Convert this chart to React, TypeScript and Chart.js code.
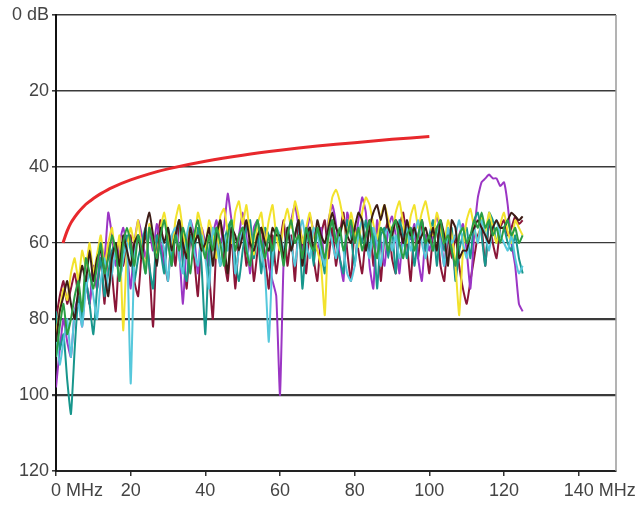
import React, { useEffect, useRef } from "react";
import { Chart, registerables } from "chart.js";

Chart.register(...registerables);

const FREQ = [
  0, 1, 2, 3, 4, 5, 6, 7, 8, 9, 10, 11, 12, 13, 14, 15, 16, 17, 18, 19,
  20, 21, 22, 23, 24, 25, 26, 27, 28, 29, 30, 31, 32, 33, 34, 35, 36, 37, 38, 39,
  40, 41, 42, 43, 44, 45, 46, 47, 48, 49, 50, 51, 52, 53, 54, 55, 56, 57, 58, 59,
  60, 61, 62, 63, 64, 65, 66, 67, 68, 69, 70, 71, 72, 73, 74, 75, 76, 77, 78, 79,
  80, 81, 82, 83, 84, 85, 86, 87, 88, 89, 90, 91, 92, 93, 94, 95, 96, 97, 98, 99,
  100, 101, 102, 103, 104, 105, 106, 107, 108, 109, 110, 111, 112, 113, 114, 115, 116, 117, 118, 119,
  120, 121, 122, 123, 124, 125,
];

const RED_X = [1.9, 2, 3, 4, 5, 6, 8, 10, 12, 15, 20, 25, 30, 40, 50, 60, 70, 80, 90, 100];
const RED_Y = [60, 59.6, 56.8, 54.7, 53.2, 51.9, 49.8, 48.3, 47.0, 45.4, 43.4, 41.8, 40.5, 38.5, 36.9, 35.6, 34.5, 33.6, 32.7, 32.0];

const YELLOW = [
  84, 78, 72, 75, 68, 64, 70, 62, 66, 60,
  68, 63, 58, 66, 60, 56, 64, 58, 83, 62,
  56, 60, 54, 62, 66, 55, 58, 64, 56, 52,
  58, 62, 54, 50, 57, 63, 55, 60, 52, 56,
  62, 54, 58, 64, 53, 51, 57, 60, 52, 49,
  55, 50, 58, 63, 55, 52, 60, 54, 50, 58,
  62, 55, 51, 56, 49, 53, 60, 56, 52, 58,
  62, 66, 79, 55, 48, 46, 49, 54, 58, 52,
  57, 61, 52, 48, 50, 55, 59, 53, 50, 54,
  58, 52, 49, 55, 60, 53, 50, 56, 52, 49,
  54, 58, 52, 56, 60, 54, 58, 66, 79, 62,
  54, 51, 56, 60, 53, 57, 52, 56, 60, 55,
  52, 57, 60, 54, 56, 58,
];
const PURPLE = [
  98, 88, 80, 86, 90, 78, 74, 82, 70, 76,
  66, 72, 60, 64, 52, 58, 66, 60, 56, 62,
  72, 60, 54, 58, 64, 57, 62, 55, 60, 66,
  58, 66, 56, 62, 76, 60, 54, 58, 68, 56,
  60, 66, 58, 54, 60, 56, 47, 54, 62, 58,
  52, 58, 68, 56, 54, 62, 57, 66, 70, 74,
  100, 64, 58, 54, 50, 56, 62, 58, 53, 57,
  62, 56, 66, 54, 50, 55, 64, 70, 52, 56,
  60, 54, 48, 52, 66, 72, 54, 60, 66, 56,
  53, 58, 68, 56, 54, 59, 55, 64, 70, 58,
  62, 57, 53, 58, 66, 56, 60, 68, 58, 55,
  62, 72, 58, 48, 44, 43, 42, 43, 43, 45,
  44, 50, 60, 66, 76, 78,
];
const MAROON = [
  80, 74, 70, 76, 72, 68, 74, 80, 70, 76,
  66, 72, 64, 76, 60, 68, 78, 62, 66, 60,
  58, 70, 74, 62, 58, 66, 82, 60, 54, 64,
  70, 58, 66, 54, 62, 72, 58, 64, 74, 58,
  62, 68, 80, 60, 54, 64, 70, 58, 72, 60,
  56, 66, 58, 70, 62, 56, 64, 72, 58, 68,
  60, 54, 66, 58, 70, 54, 60, 68, 56, 64,
  70, 58, 54, 64, 56, 66, 58, 52, 62, 70,
  56, 62, 68, 58, 54, 66, 56, 70, 58, 54,
  64, 68, 56, 52, 60, 70, 56, 64, 54, 60,
  68, 58, 56, 66, 70, 58, 64, 58, 66, 72,
  76, 70, 64, 58, 56, 66, 54, 60, 64, 56,
  54, 58, 56, 53, 55, 54,
];
const TEAL = [
  78, 88, 84, 96, 105, 88, 74, 80, 70, 76,
  84, 72, 64, 74, 68, 62, 60, 70, 64, 58,
  62, 70, 64, 60, 56, 66, 72, 58, 62, 68,
  56, 64, 58, 54, 66, 70, 58, 62, 56, 66,
  84, 62, 58, 56, 66, 60, 56, 54, 64, 70,
  62, 56, 54, 64, 58, 68, 56, 58, 66, 56,
  60, 64, 56, 62, 58, 54, 72, 60, 56, 66,
  56, 62, 68, 58, 54, 60, 64, 68, 54, 58,
  66, 56, 60, 54, 62, 56, 72, 58, 56, 64,
  56, 68, 54, 58, 64, 56, 66, 58, 54, 62,
  58, 54, 66, 56, 62, 58, 56, 70, 62, 58,
  56, 64, 54, 52, 58, 66, 52, 54, 60, 56,
  56, 60, 62, 58, 64, 68,
];
const CYAN = [
  84, 92, 86, 80, 90, 78, 76, 82, 72, 68,
  74, 80, 70, 64, 72, 68, 62, 70, 64, 60,
  97, 64, 58, 62, 68, 56, 60, 66, 58, 62,
  70, 58, 56, 64, 68, 58, 54, 62, 66, 58,
  64, 72, 56, 60, 66, 58, 62, 54, 68, 62,
  56, 60, 66, 58, 54, 62, 68, 86, 64, 56,
  58, 62, 56, 60, 66, 58, 54, 60, 64, 56,
  58, 62, 66, 56, 60, 64, 58, 62, 68, 70,
  66, 58, 54, 60, 64, 56, 60, 66, 58, 56,
  62, 58, 64, 60, 56, 62, 58, 54, 60, 64,
  58, 62, 56, 60, 66, 56, 60, 58, 54, 60,
  64, 58, 56, 60, 54, 58, 62, 56, 54, 58,
  60, 62, 58, 64, 68, 66,
];
const GREEN = [
  90, 82, 76, 84, 80, 74, 70, 78, 64, 68,
  72, 66, 60, 68, 64, 58, 62, 70, 60, 56,
  60, 66, 58, 62, 68, 56, 60, 64, 58, 54,
  60, 66, 58, 62, 56, 60, 68, 58, 54, 60,
  64, 58, 62, 56, 60, 66, 58, 54, 62, 58,
  56, 62, 66, 58, 54, 60, 64, 58, 62, 56,
  60, 66, 58, 54, 60, 58, 64, 56, 60, 62,
  56, 60, 64, 58, 54, 60, 56, 62, 58, 54,
  60, 56, 62, 58, 54, 60, 64, 56, 58, 62,
  56, 54, 60, 64, 58, 56, 62, 58, 54, 60,
  58, 62, 56, 54, 60, 58, 62, 66, 58, 56,
  60, 58, 54, 56, 52, 56, 54, 58, 56, 60,
  56, 54, 58, 56, 60, 58,
];
const DARK = [
  86, 78, 74, 70, 76, 80, 72, 66, 70, 62,
  70, 64, 62, 68, 74, 64, 60, 66, 58, 62,
  66, 60, 58, 64, 56, 52, 58, 66, 56, 60,
  56, 62, 58, 54, 60, 64, 56, 60, 58, 62,
  60, 56, 66, 58, 54, 60, 68, 56, 58, 62,
  58, 54, 60, 62, 58, 56, 60, 62, 56, 58,
  58, 64, 56, 62, 58, 54, 66, 58, 56, 62,
  54, 58, 60, 56, 52, 56, 58, 54, 58, 60,
  56, 52, 54, 62, 56, 52, 50, 54, 50, 56,
  58, 54, 56, 60, 54, 58, 56, 60, 58, 56,
  60, 56, 62, 54, 58, 66, 54, 56, 64, 62,
  62, 58, 56, 54, 56, 58, 60, 56, 54, 56,
  56, 54, 52, 53, 54, 53,
];

const Y_TICKS = [0, 20, 40, 60, 80, 100, 120];
const X_TICKS = [0, 20, 40, 60, 80, 100, 120, 140];

const FONT = "'Liberation Sans', Arial, sans-serif";
const FONT_SIZE = 18;

function pts(xs: number[], ys: number[]) {
  return ys.map((y, i) => ({ x: xs[i], y }));
}

export default function App() {
  const ref = useRef<HTMLCanvasElement | null>(null);

  useEffect(() => {
    document.body.style.margin = "0";
    const canvas = ref.current;
    if (!canvas) return;

    const noise = [
      { data: GREEN, color: "#2a9e44" },
      { data: DARK, color: "#3d1c16" },
      { data: CYAN, color: "#56c8dc" },
      { data: YELLOW, color: "#f2e22c" },
      { data: TEAL, color: "#17968c" },
      { data: PURPLE, color: "#9b35c4" },
      { data: MAROON, color: "#8a1638" },
    ];

    const labelPlugin = {
      id: "xlabels",
      afterDraw(chart: any) {
        const ctx = chart.ctx;
        const xs = chart.scales.x;
        const area = chart.chartArea;
        ctx.save();
        ctx.strokeStyle = "#9a9a9a";
        ctx.lineWidth = 1.5;
        ctx.beginPath();
        ctx.moveTo(area.right, area.top);
        ctx.lineTo(area.right, area.bottom);
        ctx.stroke();
        ctx.font = `${FONT_SIZE}px ${FONT}`;
        ctx.fillStyle = "#444";
        ctx.textBaseline = "middle";
        X_TICKS.forEach((v, i) => {
          const px = xs.getPixelForValue(v);
          const num = String(v);
          const w = ctx.measureText(num).width;
          ctx.textAlign = "left";
          const label = i === 0 || i === X_TICKS.length - 1 ? num + " MHz" : num;
          ctx.fillText(label, px - w / 2, area.bottom + 20);
        });
        ctx.restore();
      },
    };

    const chart = new Chart(canvas, {
      type: "line",
      data: {
        datasets: [
          {
            data: pts(RED_X, RED_Y),
            borderColor: "#e8282c",
            borderWidth: 3,
            pointRadius: 0,
            tension: 0.3,
          },
          ...noise.map((s) => ({
            data: pts(FREQ, s.data),
            borderColor: s.color,
            borderWidth: 2,
            pointRadius: 0,
            tension: 0.15,
          })),
        ],
      },
      options: {
        responsive: false,
        animation: false,
        devicePixelRatio: 1,
        layout: { padding: { left: 0, right: 21, top: 15, bottom: 0 } },
        plugins: { legend: { display: false }, tooltip: { enabled: false } },
        scales: {
          x: {
            type: "linear",
            min: 0,
            max: 150,
            afterFit: (s: any) => {
              s.height = 34;
            },
            afterBuildTicks: (s: any) => {
              s.ticks = X_TICKS.map((v) => ({ value: v }));
            },
            ticks: { display: false },
            border: { display: true, color: "#222", width: 2 },
            grid: {
              display: true,
              drawOnChartArea: false,
              drawTicks: true,
              tickLength: 5,
              color: "#333",
              lineWidth: 1.5,
            },
          },
          y: {
            type: "linear",
            reverse: true,
            min: 0,
            max: 120,
            afterFit: (s: any) => {
              s.width = 56;
            },
            afterBuildTicks: (s: any) => {
              s.ticks = Y_TICKS.map((v) => ({ value: v }));
            },
            ticks: {
              padding: 3,
              color: "#444",
              font: { family: FONT, size: FONT_SIZE },
              callback: (v: any) => (v === 0 ? "0 dB" : String(v)),
            },
            border: { display: true, color: "#111", width: 2 },
            grid: {
              drawTicks: true,
              tickLength: 4,
              color: "#3a3a3a",
              lineWidth: (c: any) => {
                const v = c.tick ? c.tick.value : 0;
                if (v === 80 || v === 100) return 2.2;
                if (v === 60) return 1.2;
                return 1.6;
              },
            },
          },
        },
      },
      plugins: [labelPlugin],
    } as any);

    return () => chart.destroy();
  }, []);

  return (
    <div style={{ position: "absolute", left: 0, top: 0, width: 637, height: 505, background: "#fff" }}>
      <canvas ref={ref} width={637} height={505} style={{ display: "block" }} />
    </div>
  );
}
